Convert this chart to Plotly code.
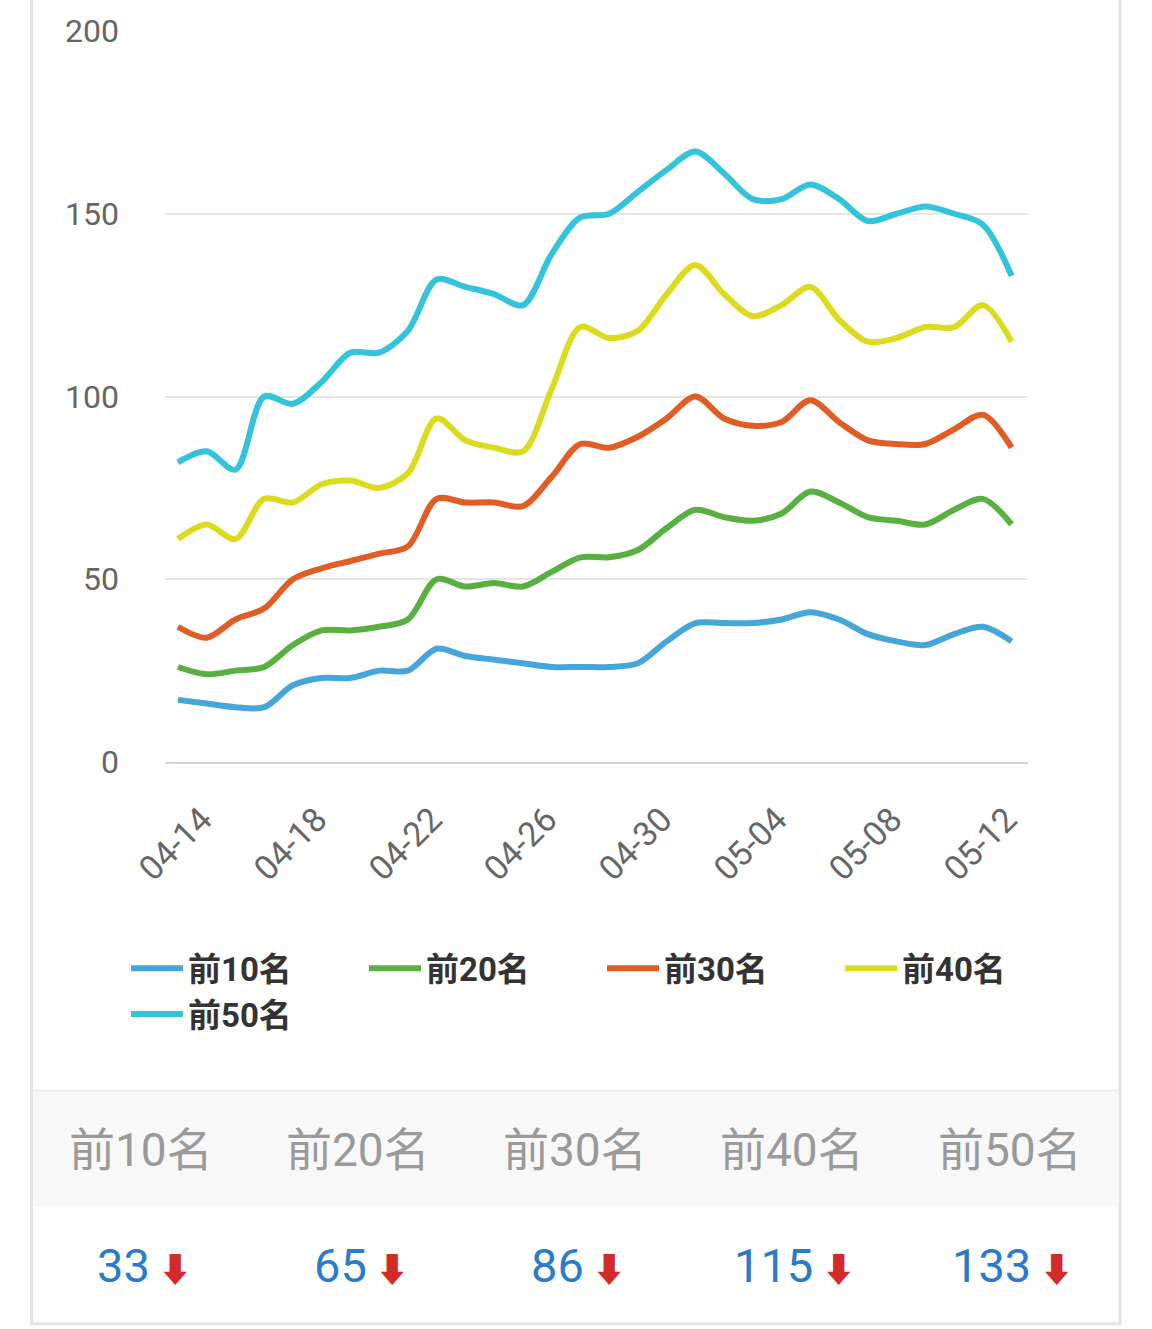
import plotly.graph_objects as go

# ---------------- data ----------------
dates = ["04-14", "04-15", "04-16", "04-17", "04-18", "04-19", "04-20", "04-21",
         "04-22", "04-23", "04-24", "04-25", "04-26", "04-27", "04-28", "04-29",
         "04-30", "05-01", "05-02", "05-03", "05-04", "05-05", "05-06", "05-07",
         "05-08", "05-09", "05-10", "05-11", "05-12", "05-13"]

series_names = ["前10名", "前20名", "前30名", "前40名", "前50名"]

top10 = [17, 16, 15, 15, 21, 23, 23, 25, 25, 31, 29, 28, 27, 26, 26, 26, 27, 33, 38, 38,
         38, 39, 41, 39, 35, 33, 32, 35, 37, 33]
top20 = [26, 24, 25, 26, 32, 36, 36, 37, 39, 50, 48, 49, 48, 52, 56, 56, 58, 64, 69, 67,
         66, 68, 74, 71, 67, 66, 65, 69, 72, 65]
top30 = [37, 34, 39, 42, 50, 53, 55, 57, 59, 72, 71, 71, 70, 78, 87, 86, 89, 94, 100, 94,
         92, 93, 99, 93, 88, 87, 87, 91, 95, 86]
top40 = [61, 65, 61, 72, 71, 76, 77, 75, 79, 94, 88, 86, 85, 102, 119, 116, 118, 128, 136, 128,
         122, 125, 130, 121, 115, 116, 119, 119, 125, 115]
top50 = [82, 85, 80, 100, 98, 104, 112, 112, 118, 132, 130, 128, 125, 139, 149, 150, 156, 162, 167, 161,
         154, 154, 158, 154, 148, 150, 152, 150, 147, 133]

series_values = [top10, top20, top30, top40, top50]
colors = ["#44a6d9", "#58b040", "#e05d26", "#dcdc1e", "#33c3da"]

y_ticks = [0, 50, 100, 150, 200]
x_ticks = dates[::4]

# ---------------- layout geometry ----------------
W, H = 1152, 1329
L, R, T, B = 165, 1028, 28, 762   # plot area in pixels


def px(xp):
    return (xp - L) / (R - L)


def py(yp):
    return (B - yp) / (B - T)


FONT = "Roboto, 'Noto Sans CJK SC', sans-serif"

fig = go.Figure()
for name, vals, col in zip(series_names, series_values, colors):
    fig.add_trace(go.Scatter(
        x=dates, y=vals, name=name, mode="lines",
        line=dict(color=col, width=6, shape="spline", smoothing=0.9),
        hoverinfo="skip",
    ))

shapes = []
border = "#e3e3e3"
# card borders
shapes.append(dict(type="line", xref="paper", yref="paper", x0=px(31.5), x1=px(31.5),
                   y0=py(-5), y1=py(1326), line=dict(color=border, width=3), layer="below"))
shapes.append(dict(type="line", xref="paper", yref="paper", x0=px(1120), x1=px(1120),
                   y0=py(-5), y1=py(1326), line=dict(color=border, width=3), layer="below"))
shapes.append(dict(type="line", xref="paper", yref="paper", x0=px(30), x1=px(1121.5),
                   y0=py(1326), y1=py(1326), line=dict(color=border, width=3), layer="below"))
# grey band of the table header
shapes.append(dict(type="rect", xref="paper", yref="paper", x0=px(33), x1=px(1118.5),
                   y0=py(1208), y1=py(1093), fillcolor="#f8f8f8", line=dict(width=0), layer="below"))
shapes.append(dict(type="line", xref="paper", yref="paper", x0=px(33), x1=px(1118.5),
                   y0=py(1092), y1=py(1092), line=dict(color="#ebebeb", width=2), layer="below"))

annotations = []
col_centers = [141, 358, 575, 792, 1010]
for cx, name, vals in zip(col_centers, series_names, series_values):
    annotations.append(dict(
        xref="paper", yref="paper", x=px(cx), y=py(1152), text=name, showarrow=False,
        xanchor="center", yanchor="middle",
        font=dict(family=FONT, size=46, color="#9a9a9a"),
    ))
    last = vals[-1]
    arrow = "⬇" if last < vals[-2] else "⬆"
    annotations.append(dict(
        xref="paper", yref="paper", x=px(cx + 3), y=py(1268),
        text=f"{last}<span style='color:#d32a2a;font-size:34px'> {arrow}</span>",
        showarrow=False, xanchor="center", yanchor="middle",
        font=dict(family=FONT, size=47, color="#2a7cca"),
    ))

fig.update_layout(
    width=W, height=H,
    margin=dict(l=L, r=W - R, t=T, b=H - B, pad=0),
    paper_bgcolor="white", plot_bgcolor="white",
    showlegend=True,
    legend=dict(
        orientation="h", x=px(126), y=py(941), xanchor="left", yanchor="top",
        font=dict(family=FONT, size=33, color="#333333", weight="bold"),
        itemwidth=52, entrywidth=171, entrywidthmode="pixels",
        tracegroupgap=0, bgcolor="rgba(0,0,0,0)",
        itemclick=False, itemdoubleclick=False,
    ),
    xaxis=dict(
        type="category", range=[-0.45, 29.57],
        tickmode="array", tickvals=x_ticks, ticktext=x_ticks,
        tickangle=-45, tickfont=dict(family=FONT, size=34, color="#666666"),
        ticklabelshift=24, ticklabelstandoff=22,
        showgrid=False, showline=True, linecolor="#ccd4e2", linewidth=2,
        ticks="", zeroline=False, fixedrange=True,
    ),
    yaxis=dict(
        range=[0, 200], tickmode="array", tickvals=y_ticks,
        tickfont=dict(family=FONT, size=32, color="#666666"),
        ticklabelstandoff=45,
        showgrid=True, gridcolor="#e6e6e6", gridwidth=2,
        zeroline=False, showline=False, ticks="", fixedrange=True,
    ),
    shapes=shapes,
    annotations=annotations,
    hovermode=False,
)

fig.write_html("out.html", config={"displayModeBar": False},
               post_script="document.body.style.margin='0';")
